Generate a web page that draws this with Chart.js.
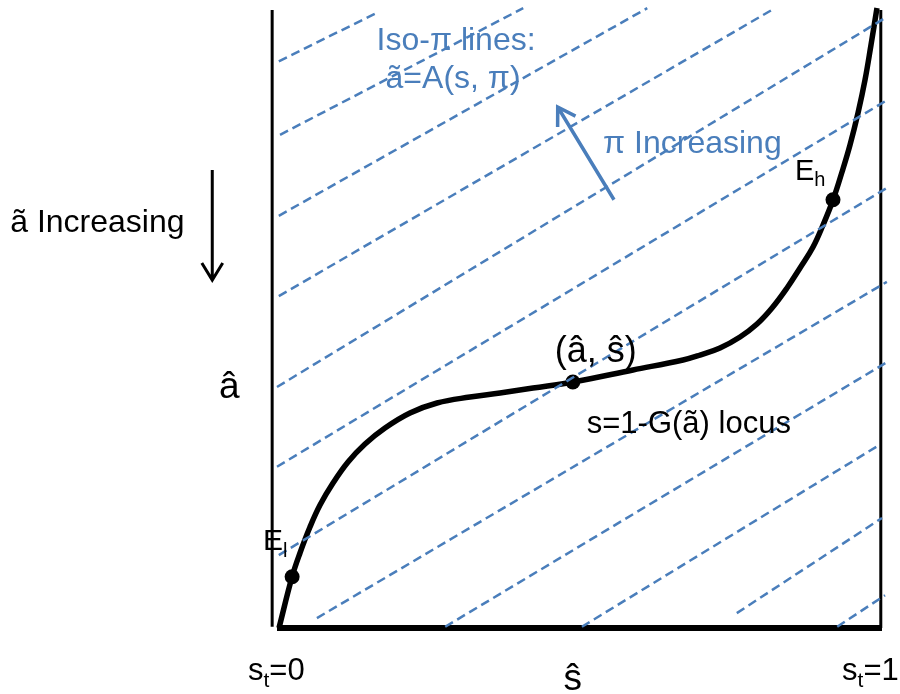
<!DOCTYPE html>
<html>
<head>
<meta charset="utf-8">
<script src="https://cdn.jsdelivr.net/npm/chart.js@4"></script>
<style>
  body { margin: 0; background: #fff; }
  #wrap { width: 900px; height: 694px; }
</style>
</head>
<body>
<div id="wrap"><canvas id="chart" width="900" height="694"></canvas></div>
<script>
// s = share (0..1 left to right), a = ability (0 bottom .. 1 top)
const locusS = [0.0033, 0.0248, 0.0380, 0.0545, 0.0711, 0.0926, 0.1174, 0.1455, 0.1785, 0.2198, 0.2645,
    0.3190, 0.3686, 0.4231, 0.4893, 0.5884, 0.6711, 0.6992, 0.7322, 0.7653, 0.7934, 0.8182, 0.8430,
    0.8645, 0.8860, 0.9025, 0.9190, 0.9339, 0.9471, 0.9603, 0.9719, 0.9818, 0.9917];
const locusA = [0.0000, 0.0825, 0.1214, 0.1634, 0.1990, 0.2346, 0.2686, 0.2977, 0.3236, 0.3479, 0.3641,
    0.3738, 0.3803, 0.3883, 0.3981, 0.4175, 0.4337, 0.4417, 0.4531, 0.4709, 0.4919, 0.5178, 0.5502,
    0.5825, 0.6165, 0.6521, 0.6926, 0.7379, 0.7816, 0.8333, 0.8867, 0.9434, 1.0032];

// equilibria: E_l, (â, ŝ), E_h
const eqS = [0.025, 0.489, 0.919];
const eqA = [0.083, 0.398, 0.693];

// iso-pi lines, start and end points
const isoStartS = [0.003, 0.005, 0.003, 0.003, 0.000, 0.000, 0.003, 0.066, 0.278, 0.504, 0.760, 0.926];
const isoStartA = [0.917, 0.798, 0.667, 0.537, 0.390, 0.261, 0.118, 0.016, 0.002, 0.002, 0.024, 0.002];
const isoEndS = [0.162, 0.407, 0.612, 0.823, 1.005, 1.008, 1.008, 1.008, 1.008, 0.992, 1.000, 1.005];
const isoEndA = [0.994, 1.003, 1.003, 1.003, 0.987, 0.854, 0.712, 0.560, 0.430, 0.294, 0.178, 0.053];

const BLUE = '#4a7ebb';
const FONT = '"Liberation Sans", Arial, sans-serif';

// annotations: [from s, from a, to s, to a]
const piArrow = [0.557, 0.693, 0.464, 0.843];
const aArrow = [-0.107, 0.741, -0.107, 0.563];

const labels = [
    { parts: [['Iso-\u03c0 lines:']], s: 0.296, a: 0.935, size: 32, color: BLUE, align: 'center' },
    { parts: [['\u00e3=A(s, \u03c0)']], s: 0.291, a: 0.874, size: 32, color: BLUE, align: 'center' },
    { parts: [['\u03c0 Increasing']], s: 0.539, a: 0.769, size: 32, color: BLUE, align: 'left' },
    { parts: [['\u00e3 Increasing']], s: -0.441, a: 0.641, size: 32, color: '#000', align: 'left' },
    { parts: [['\u00e2']], s: -0.079, a: 0.372, size: 37, color: '#000', align: 'center' },
    { parts: [['(\u00e2, \u015d)']], s: 0.527, a: 0.430, size: 36, color: '#000', align: 'center' },
    { parts: [['s=1-G(\u00e3) locus']], s: 0.512, a: 0.316, size: 31, color: '#000', align: 'left' },
    { parts: [['E'], ['h', true]], s: 0.856, a: 0.725, size: 29, color: '#000', align: 'left' },
    { parts: [['E'], ['l', true]], s: -0.023, a: 0.126, size: 30, color: '#000', align: 'left' },
    { parts: [['s'], ['t', true], ['=0']], s: -0.048, a: -0.084, size: 31, color: '#000', align: 'left' },
    { parts: [['s'], ['t', true], ['=1']], s: 0.934, a: -0.084, size: 31, color: '#000', align: 'left' },
    { parts: [['\u015d']], s: 0.489, a: -0.100, size: 37, color: '#000', align: 'center' }
];

function toPoints(xs, ys) {
    return xs.map((x, i) => ({ x: x, y: ys[i] }));
}

function segment(s0, a0, s1, a1, color, width, dash) {
    return {
        data: [{ x: s0, y: a0 }, { x: s1, y: a1 }],
        showLine: true,
        borderColor: color,
        borderWidth: width,
        borderDash: dash || [],
        borderCapStyle: 'butt',
        pointRadius: 0,
        clip: false
    };
}

const datasets = [];

isoStartS.forEach((s, i) => {
    datasets.push(segment(s, isoStartA[i], isoEndS[i], isoEndA[i], BLUE, 2.5, [9, 5]));
});

// frame
datasets.push(segment(-0.008, 0.002, -0.008, 1.0, '#000', 3));
datasets.push(segment(0.998, 0.0, 0.998, 1.0, '#000', 3));
datasets.push(segment(0.0, 0.0, 1.0, 0.0, '#000', 6));

datasets.push({
    data: toPoints(locusS, locusA),
    showLine: true,
    borderColor: '#000',
    borderWidth: 5.5,
    tension: 0.4,
    pointRadius: 0,
    clip: false
});

datasets.push({
    data: toPoints(eqS, eqA),
    showLine: false,
    pointRadius: 7.5,
    pointBackgroundColor: '#000',
    pointBorderWidth: 0,
    clip: false
});

function drawArrow(ctx, xs, ys, arr, color, width) {
    const x0 = xs.getPixelForValue(arr[0]), y0 = ys.getPixelForValue(arr[1]);
    const x1 = xs.getPixelForValue(arr[2]), y1 = ys.getPixelForValue(arr[3]);
    const ang = Math.atan2(y1 - y0, x1 - x0);
    const head = 20, spread = 0.55;
    ctx.save();
    ctx.strokeStyle = color;
    ctx.lineWidth = width;
    ctx.lineCap = 'butt';
    ctx.beginPath();
    ctx.moveTo(x0, y0);
    ctx.lineTo(x1, y1);
    ctx.moveTo(x1 - head * Math.cos(ang - spread), y1 - head * Math.sin(ang - spread));
    ctx.lineTo(x1, y1);
    ctx.lineTo(x1 - head * Math.cos(ang + spread), y1 - head * Math.sin(ang + spread));
    ctx.stroke();
    ctx.restore();
}

const annotate = {
    id: 'annotate',
    afterDatasetsDraw(chart) {
        const ctx = chart.ctx;
        const xs = chart.scales.x, ys = chart.scales.y;
        drawArrow(ctx, xs, ys, piArrow, BLUE, 3.5);
        drawArrow(ctx, xs, ys, aArrow, '#000', 3);

        ctx.save();
        ctx.textBaseline = 'alphabetic';
        labels.forEach(lb => {
            const sub = Math.round(lb.size * 0.68);
            let total = 0;
            lb.parts.forEach(p => {
                ctx.font = (p[1] ? sub : lb.size) + 'px ' + FONT;
                total += ctx.measureText(p[0]).width;
            });
            let x = xs.getPixelForValue(lb.s);
            const y = ys.getPixelForValue(lb.a);
            if (lb.align === 'center') x -= total / 2;
            ctx.fillStyle = lb.color;
            lb.parts.forEach(p => {
                ctx.font = (p[1] ? sub : lb.size) + 'px ' + FONT;
                ctx.fillText(p[0], x, p[1] ? y + lb.size * 0.22 : y);
                x += ctx.measureText(p[0]).width;
            });
        });
        ctx.restore();
    }
};

new Chart(document.getElementById('chart'), {
    type: 'scatter',
    data: { datasets: datasets },
    options: {
        responsive: false,
        animation: false,
        layout: { padding: { left: 277, right: 18, top: 10, bottom: 66 } },
        scales: {
            x: { type: 'linear', min: 0, max: 1, display: false },
            y: { type: 'linear', min: 0, max: 1, display: false }
        },
        plugins: { legend: { display: false }, tooltip: { enabled: false } }
    },
    plugins: [annotate]
});
</script>
</body>
</html>
